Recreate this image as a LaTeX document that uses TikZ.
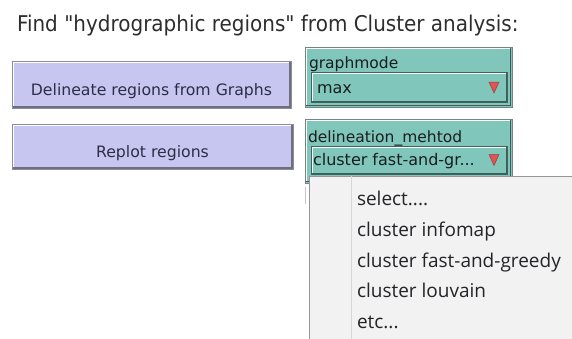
\documentclass[tikz,border=0pt]{standalone}
\usepackage{fontspec}
\setmainfont{DejaVu Sans}
\newfontfamily\titlefont[FakeStretch=0.92]{DejaVu Sans}
\newfontfamily\menufont{Open Sans}
\definecolor{btnfill}{RGB}{198,198,240}
\definecolor{btnedge}{RGB}{140,140,155}
\definecolor{btnshadow}{RGB}{110,110,125}
\definecolor{btntext}{RGB}{45,45,70}
\definecolor{tealfill}{RGB}{128,198,186}
\definecolor{tealedge}{RGB}{120,130,128}
\definecolor{tealshadow}{RGB}{70,90,86}
\definecolor{dropedge}{RGB}{60,100,94}
\definecolor{lbltext}{RGB}{25,30,30}
\definecolor{trifill}{RGB}{224,84,84}
\definecolor{triedge}{RGB}{150,60,60}
\definecolor{menubg}{RGB}{242,242,242}
\definecolor{menuedge}{RGB}{150,150,150}
\definecolor{menusep}{RGB}{215,215,215}
\definecolor{menutext}{RGB}{35,35,40}
\definecolor{titletext}{RGB}{45,45,45}
\begin{document}
\begin{tikzpicture}[x=1pt,y=-1pt,
  every node/.style={inner sep=0pt, outer sep=0pt},
  btn/.style={anchor=north west, fill=btnfill, draw=btnedge, line width=1pt,
    font=\fontsize{15.7}{18}\selectfont, text=btntext},
  hilite/.style={white, line width=1.2pt},
  btnshade/.style={btnshadow, line width=1.4pt},
  tealbox/.style={anchor=north west, fill=tealfill, draw=tealedge, line width=1pt},
  tealshade/.style={tealshadow, line width=1.3pt},
  dropbox/.style={anchor=north west, fill=tealfill, draw=dropedge, line width=0.9pt},
  lbl/.style={anchor=base west, font=\fontsize{15.5}{18}\selectfont, text=lbltext},
  droptext/.style={anchor=base west, font=\fontsize{16}{18}\selectfont, text=lbltext},
  tri/.style={fill=trifill, draw=triedge, line width=0.5pt},
  menuitem/.style={anchor=base west, font=\menufont\fontsize{19}{22}\selectfont, text=menutext}
]
\useasboundingbox (0,0) rectangle (572,338);
\fill[white] (0,0) rectangle (572,338);

% title
\node[anchor=base west, font=\titlefont\fontsize{21.7}{25}\selectfont, text=titletext]
  (title) at (17,31) {Find "hydrographic regions" from Cluster analysis:};

% buttons
\node[btn, minimum width=279pt, minimum height=47pt, text height=23pt, text depth=1pt]
  (b1) at (12,61) {Delineate regions from Graphs};
\node[btn, minimum width=281pt, minimum height=45pt, text height=22pt, text depth=1pt]
  (b2) at (12,124) {Replot regions};
\foreach \b in {b1,b2}{
  \draw[hilite] ([shift={(1.2pt,1.5pt)}]\b.south west) |- ([shift={(-1.5pt,-1.2pt)}]\b.north east);
  \draw[btnshade] ([shift={(1.2pt,1.2pt)}]\b.south west) -| ([shift={(-1.2pt,-1.2pt)}]\b.north east);
}

% teal choosers
\node[tealbox, minimum width=207pt, minimum height=60pt] (c1) at (305,47) {};
\node[tealbox, minimum width=207pt, minimum height=64pt] (c2) at (305,119) {};
\foreach \c in {c1,c2}{
  \draw[hilite, line width=1pt] ([shift={(1.2pt,1.5pt)}]\c.south west) |- ([shift={(-1.5pt,-1.2pt)}]\c.north east);
  \draw[tealshade] ([shift={(1.2pt,1.2pt)}]\c.south west) -| ([shift={(-1.2pt,-1.2pt)}]\c.north east);
}
\node[dropbox, minimum width=196pt, minimum height=30pt] (d1) at (311,72) {};
\node[dropbox, minimum width=196pt, minimum height=28pt] (d2) at (311,146) {};
\foreach \d in {d1,d2}{
  \draw[hilite, line width=1.1pt] ([shift={(1.3pt,1.5pt)}]\d.south west) |- ([shift={(-1.5pt,-1.3pt)}]\d.north east);
  \draw[tealshade, line width=1pt] ([shift={(1pt,0.9pt)}]\d.south west) -| ([shift={(-0.9pt,-1pt)}]\d.north east);
}
\node[lbl] (l1) at (309,68) {graphmode};
\node[droptext] (v1) at (317,93) {max};
\node[lbl] (l2) at (308,142) {delineation\_mehtod};
\node[droptext] (v2) at (313,165) {cluster fast-and-gr...};
\path[tri] ([shift={(-18pt,5pt)}]d1.east) -- ([shift={(-8pt,5pt)}]d1.east) -- ([shift={(-13pt,-6pt)}]d1.east) -- cycle;
\path[tri] ([shift={(-18pt,5.5pt)}]d2.east) -- ([shift={(-8pt,5.5pt)}]d2.east) -- ([shift={(-13pt,-5.5pt)}]d2.east) -- cycle;

% small trace left of the menu
\coordinate (t1) at (305,187);
\coordinate (t2) at (305,204);
\draw[menusep!80!gray, line width=1pt] (t1) -- (t2);

% popup menu
\node[anchor=north west, fill=menubg, draw=menuedge, line width=0.8pt,
  minimum width=275pt, minimum height=170pt] (menu) at (309,176) {};
\draw[menusep, line width=0.9pt] ([xshift=42pt]menu.north west) -- ([xshift=42pt]menu.south west);
\node[menuitem] (m1) at (357,205) {select....};
\node[menuitem] (m2) at (357,236) {cluster infomap};
\node[menuitem] (m3) at (357,267) {cluster fast-and-greedy};
\node[menuitem] (m4) at (357,297) {cluster louvain};
\node[menuitem] (m5) at (357,328) {etc...};
\end{tikzpicture}
\end{document}
